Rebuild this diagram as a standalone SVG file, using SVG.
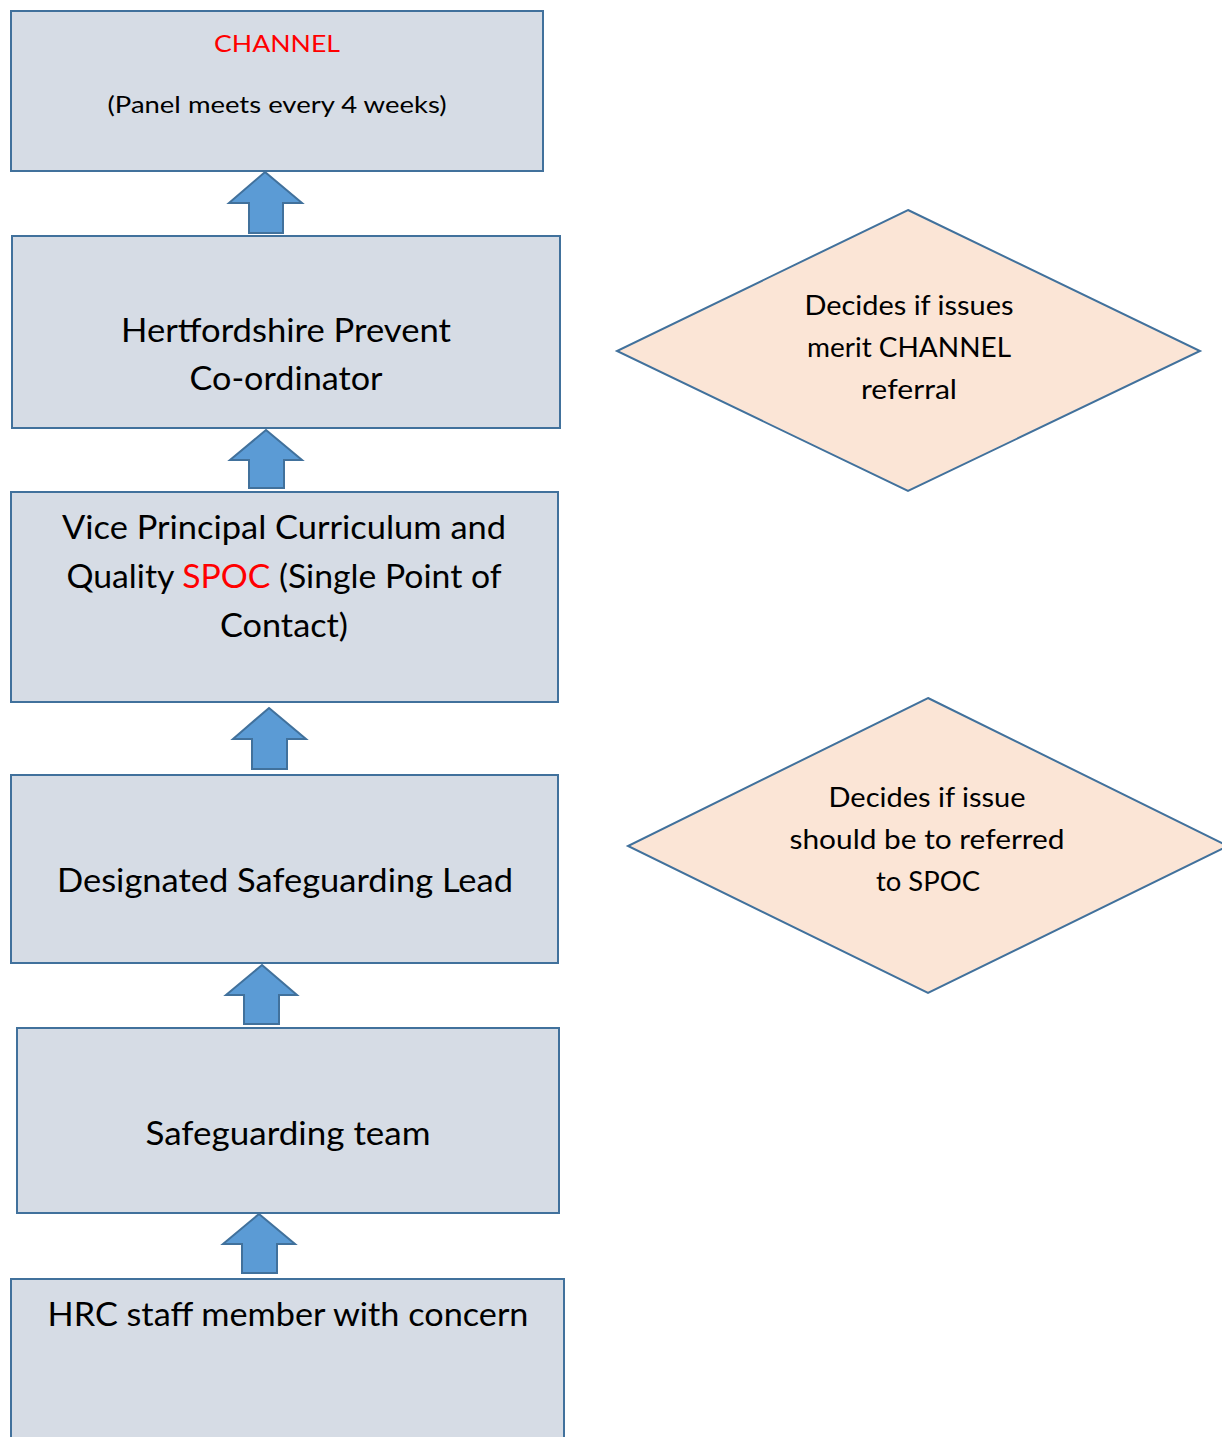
<svg xmlns="http://www.w3.org/2000/svg" width="1222" height="1437" viewBox="0 0 1222 1437">
<style>
.box{fill:#d6dce5;stroke:#41719c;stroke-width:2}
.dia{fill:#fbe5d6;stroke:#41719c;stroke-width:2}
.arr{fill:#5b9bd5;stroke:#41719c;stroke-width:2}
text{font-family:Lato,"Liberation Sans",sans-serif;fill:#000;text-anchor:middle}
.big{font-size:32px}
.mid{font-size:27px}
.sm{font-size:24px}
.red{fill:#ff0000}
</style>
<rect width="1222" height="1437" fill="#fff"/>
<g id="connectors">
<polygon class="arr" points="265,172 302,203 283,203 283,233 249,233 249,203 229,203"/>
<polygon class="arr" points="266,430 302,460 284,460 284,488 249,488 249,460 230,460"/>
<polygon class="arr" points="269,708 306,739 287,739 287,769 252,769 252,739 233,739"/>
<polygon class="arr" points="262,965 297,995 279,995 279,1024 244,1024 244,995 226,995"/>
<polygon class="arr" points="259,1214 295,1244 277,1244 277,1273 242,1273 242,1244 223,1244"/>
</g>
<g id="channel">
<rect class="box" x="11" y="11" width="532" height="160"/>
<text class="sm red" x="277" y="52" textLength="126" lengthAdjust="spacingAndGlyphs">CHANNEL</text>
<text class="sm" x="277" y="113" textLength="339" lengthAdjust="spacingAndGlyphs">(Panel meets every 4 weeks)</text>
</g>
<g id="hertfordshire">
<rect class="box" x="12" y="236" width="548" height="192"/>
<text class="big" x="286" y="342" textLength="330" lengthAdjust="spacingAndGlyphs">Hertfordshire Prevent</text>
<text class="big" x="286" y="390" textLength="193" lengthAdjust="spacingAndGlyphs">Co-ordinator</text>
</g>
<g id="vice-principal">
<rect class="box" x="11" y="492" width="547" height="210"/>
<text class="big" x="284" y="539" textLength="444" lengthAdjust="spacingAndGlyphs">Vice Principal Curriculum and</text>
<text class="big" x="284" y="588" textLength="435" lengthAdjust="spacingAndGlyphs">Quality <tspan class="red">SPOC</tspan> (Single Point of</text>
<text class="big" x="284" y="637" textLength="128" lengthAdjust="spacingAndGlyphs">Contact)</text>
</g>
<g id="dsl">
<rect class="box" x="11" y="775" width="547" height="188"/>
<text class="big" x="285" y="892" textLength="456" lengthAdjust="spacingAndGlyphs">Designated Safeguarding Lead</text>
</g>
<g id="safeguarding-team">
<rect class="box" x="17" y="1028" width="542" height="185"/>
<text class="big" x="288" y="1145" textLength="285" lengthAdjust="spacingAndGlyphs">Safeguarding team</text>
</g>
<g id="hrc-staff">
<rect class="box" x="11" y="1279" width="553" height="170"/>
<text class="big" x="288" y="1326" textLength="481" lengthAdjust="spacingAndGlyphs">HRC staff member with concern</text>
</g>
<g id="decision-channel">
<polygon class="dia" points="908,210 1200,351 908,491 617,351"/>
<text class="mid" x="909" y="315" textLength="209" lengthAdjust="spacingAndGlyphs">Decides if issues</text>
<text class="mid" x="909" y="357" textLength="204" lengthAdjust="spacingAndGlyphs">merit CHANNEL</text>
<text class="mid" x="909" y="399" textLength="96" lengthAdjust="spacingAndGlyphs">referral</text>
</g>
<g id="decision-spoc">
<polygon class="dia" points="928,698 1228,846 928,993 628,846"/>
<text class="mid" x="927" y="807" textLength="197" lengthAdjust="spacingAndGlyphs">Decides if issue</text>
<text class="mid" x="927" y="849" textLength="275" lengthAdjust="spacingAndGlyphs">should be to referred</text>
<text class="mid" x="928" y="891" textLength="104" lengthAdjust="spacingAndGlyphs">to SPOC</text>
</g>
</svg>
